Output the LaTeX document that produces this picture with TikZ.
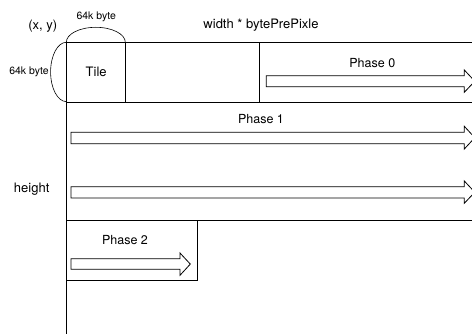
\documentclass[tikz,border=0pt]{standalone}
\usepackage{fontspec}
\setmainfont{TeX Gyre Heros}
\begin{document}
\begin{tikzpicture}[x=1pt,y=-1pt,
  frame/.style={draw=black,line width=0.8pt},
  arc line/.style={draw=black,line width=0.6pt},
  fat arrow/.style={draw=black,line width=0.8pt,line join=miter,fill=white},
  big label/.style={font=\fontsize{13}{15}\selectfont,inner sep=0pt},
  phase label/.style={font=\fontsize{12.5}{15}\selectfont,inner sep=0pt},
  small label/.style={font=\fontsize{10.5}{12}\selectfont,inner sep=0pt}]
\useasboundingbox (0,0) rectangle (472,334);

% main frame lines
\coordinate (tl) at (66.7,42.7);
\coordinate (tr) at (480,42.7);
\coordinate (r1l) at (66.7,102);
\coordinate (r1r) at (480,102);
\coordinate (r2l) at (66.7,220.7);
\coordinate (r2r) at (480,220.7);
\coordinate (bl) at (66.7,334);
\draw[frame] (tl) -- (tr);
\draw[frame] (r1l) -- (r1r);
\draw[frame] (r2l) -- (r2r);
\draw[frame] (tl) -- (bl);

% tile
\node[frame,minimum width=59pt,minimum height=59.3pt,inner sep=0pt,
      font=\fontsize{13}{15}\selectfont] (tile) at (96.2,72.35) {Tile};

% arcs
\draw[arc line] (tile.north west) arc[start angle=90,end angle=270,x radius=15.7pt,y radius=29.65pt];
\draw[arc line] (tile.north west) arc[start angle=180,end angle=0,x radius=29.5pt,y radius=15pt];

% labels
\node[big label] (xy) at (42.7,26) {(x, y)};
\node[small label] (kb1) at (96.2,17.3) {64k byte};
\node[small label] (kb2) at (29,72.3) {64k byte};
\node[big label] (wd) at (261,25.3) {width * bytePrePixle};
\node[big label] (ht) at (31.7,189.3) {height};

% phase 0 box
\draw[frame] (259,42.7) rectangle (480,102);
\node[phase label] (p0) at (372.3,62.7) {Phase 0};
\draw[fat arrow] (266.3,75.7) -- (464.3,75.7) -- (464.3,70) -- (474.8,81.2)
  -- (464.3,92.3) -- (464.3,86.7) -- (266.3,86.7) -- cycle;

% phase 1
\node[phase label] (p1) at (261,119.3) {Phase 1};
\draw[fat arrow] (71,132.3) -- (464.3,132.3) -- (464.3,126.3) -- (474.8,137.7)
  -- (464.3,149) -- (464.3,143.7) -- (71,143.7) -- cycle;
\draw[fat arrow] (71,186.7) -- (464.3,186.7) -- (464.3,181) -- (474.8,192.2)
  -- (464.3,203.3) -- (464.3,198) -- (71,198) -- cycle;

% phase 2 box
\draw[frame] (66.7,220.7) rectangle (197.3,280);
\node[phase label] (p2) at (125,240.3) {Phase 2};
\draw[fat arrow] (71,258.7) -- (180,258.7) -- (180,253) -- (190.3,264.1)
  -- (180,275.3) -- (180,269.3) -- (71,269.3) -- cycle;
\end{tikzpicture}
\end{document}
